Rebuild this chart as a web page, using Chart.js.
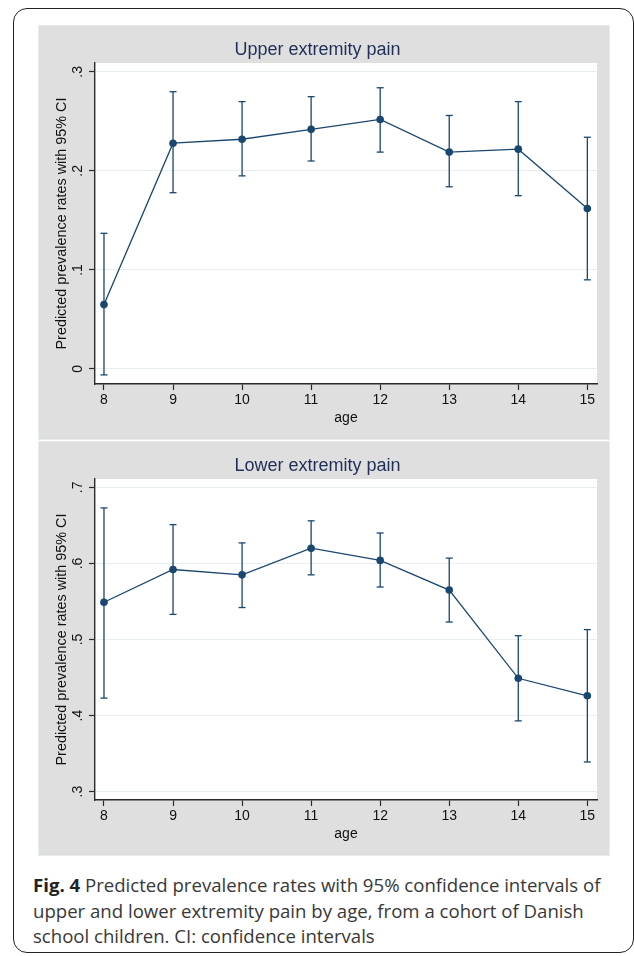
<!DOCTYPE html>
<html lang="en">
<head>
  <meta charset="UTF-8">
  <title>Fig. 4 Predicted prevalence rates</title>
  <script src="https://cdn.jsdelivr.net/npm/chart.js"></script>
  <style>
    body {
      margin: 0;
      padding: 0;
      background: #fff;
      width: 634px;
      height: 956px;
      position: relative;
      overflow: hidden;
    }

    /* outer rounded frame */
    .frame {
      position: absolute;
      left: 13px;
      top: 8px;
      width: 621px;
      height: 945px;
      box-sizing: border-box;
      border: 1.5px solid #222;
      border-radius: 14px;
    }

    /* grey Stata-like graph regions */
    .panel {
      position: absolute;
      left: 38px;
      width: 572px;
      height: 415px;
      background: #dfdfdf;
      box-shadow: inset 0 0 0 1px #e7ecee;
    }
    .panel canvas {
      position: absolute;
      left: 0;
      top: 0;
    }
    #panelUpper { top: 25px; }
    #panelLower { top: 441px; }

    .caption {
      position: absolute;
      left: 33px;
      top: 872px;
      font-family: 'Open Sans', sans-serif;
      font-size: 18.6px;
      line-height: 25.5px;
      color: #383838;
      white-space: nowrap;
    }
    .caption b {
      color: #222;
    }
  </style>
</head>
<body>
  <div class="frame"></div>

  <div class="panel" id="panelUpper">
    <canvas id="upperChart" width="572" height="415"></canvas>
  </div>
  <div class="panel" id="panelLower">
    <canvas id="lowerChart" width="572" height="415"></canvas>
  </div>

  <div class="caption">
    <b>Fig. 4</b> Predicted prevalence rates with 95% confidence intervals of<br>
    upper and lower extremity pain by age, from a cohort of Danish<br>
    school children. CI: confidence intervals
  </div>

  <script>
    // data
    const ages = [8, 9, 10, 11, 12, 13, 14, 15];

    const upperRate = [0.065, 0.228, 0.232, 0.242, 0.252, 0.219, 0.222, 0.162];
    const upperLow  = [-0.006, 0.178, 0.195, 0.210, 0.219, 0.184, 0.175, 0.090];
    const upperHigh = [0.137, 0.280, 0.270, 0.275, 0.284, 0.256, 0.270, 0.234];

    const lowerRate = [0.549, 0.592, 0.585, 0.620, 0.604, 0.565, 0.449, 0.426];
    const lowerLow  = [0.423, 0.533, 0.542, 0.585, 0.569, 0.523, 0.393, 0.339];
    const lowerHigh = [0.673, 0.651, 0.627, 0.656, 0.640, 0.607, 0.505, 0.513];

    const upperTicks = [0, 0.1, 0.2, 0.3];
    const lowerTicks = [0.3, 0.4, 0.5, 0.6, 0.7];

    const navy = '#1a476f';
    const axisColor = '#2b2b2b';
    const fontFamily = "'Liberation Sans', Arial, sans-serif";

    // white plot region inside the grey graph region
    const plotBackground = {
      id: 'plotBackground',
      beforeDraw(chart) {
        const { ctx, chartArea: a } = chart;
        ctx.save();
        ctx.fillStyle = '#fff';
        ctx.fillRect(a.left, a.top, a.right - a.left, a.bottom - a.top);
        ctx.restore();
      }
    };

    // Stata style labels: .3 instead of 0.3
    function stataLabel(v) {
      if (v === 0) return '0';
      return v.toFixed(1).replace(/^0/, '');
    }

    function makeChart(id, title, rate, low, high, yTicks, yMin, yMax) {
      // one vertical segment per age, split by null gaps
      const ciPoints = [];
      ages.forEach((a, i) => {
        ciPoints.push({ x: a, y: low[i] });
        ciPoints.push({ x: a, y: high[i] });
        ciPoints.push({ x: a, y: null });
      });

      return new Chart(document.getElementById(id), {
        type: 'scatter',
        data: {
          datasets: [
            {
              label: 'Predicted rate',
              data: ages.map((a, i) => ({ x: a, y: rate[i] })),
              showLine: true,
              borderColor: navy,
              borderWidth: 1.3,
              pointRadius: 3.8,
              pointBackgroundColor: navy,
              pointBorderColor: navy,
              pointBorderWidth: 0,
            },
            {
              label: '95% CI',
              data: ciPoints,
              showLine: true,
              spanGaps: false,
              borderColor: navy,
              borderWidth: 1.3,
              pointStyle: 'line',
              pointRadius: 3.5,
              pointBorderColor: navy,
              pointBorderWidth: 1.3,
            }
          ]
        },
        options: {
          responsive: false,
          animation: false,
          layout: {
            padding: { left: 0, right: 13, top: 0, bottom: 0 }
          },
          plugins: {
            legend: { display: false },
            tooltip: { enabled: false },
            title: {
              display: true,
              text: title,
              color: '#1f2f57',
              font: { family: fontFamily, size: 18, weight: 'normal' },
              padding: { top: 14.2, bottom: 2.2 }
            }
          },
          scales: {
            x: {
              type: 'linear',
              min: 7.87,
              max: 15.14,
              bounds: 'data',
              afterBuildTicks: s => { s.ticks = ages.map(v => ({ value: v })); },
              afterFit: s => { s.height = 56; },
              grid: {
                drawOnChartArea: false,
                drawTicks: true,
                tickLength: 6,
                tickColor: axisColor,
                tickWidth: 1.2
              },
              border: { display: true, color: axisColor, width: 1.4 },
              ticks: {
                color: '#111',
                padding: 1.6,
                maxRotation: 0,
                font: { family: fontFamily, size: 14 }
              },
              title: {
                display: true,
                text: 'age',
                color: '#111',
                font: { family: fontFamily, size: 14 },
                padding: { top: 0, bottom: 13.8 }
              }
            },
            y: {
              type: 'linear',
              min: yMin,
              max: yMax,
              bounds: 'data',
              afterBuildTicks: s => { s.ticks = yTicks.map(v => ({ value: v })); },
              afterFit: s => { s.width = 57; },
              grid: {
                color: '#e6eef0',
                lineWidth: 1,
                drawTicks: true,
                tickLength: 6,
                tickColor: axisColor,
                tickWidth: 1.2
              },
              border: { display: true, color: axisColor, width: 1.4 },
              ticks: {
                color: '#111',
                minRotation: 90,
                maxRotation: 90,
                crossAlign: 'center',
                padding: 5,
                callback: v => stataLabel(v),
                font: { family: fontFamily, size: 14 }
              },
              title: {
                display: true,
                text: 'Predicted prevalence rates with 95% CI',
                color: '#111',
                font: { family: fontFamily, size: 14.4 },
                padding: { top: 15.4, bottom: 0 }
              }
            }
          }
        },
        plugins: [plotBackground]
      });
    }

    makeChart('upperChart', 'Upper extremity pain',
      upperRate, upperLow, upperHigh, upperTicks, -0.0152, 0.309);
    makeChart('lowerChart', 'Lower extremity pain',
      lowerRate, lowerLow, lowerHigh, lowerTicks, 0.289, 0.711);
  </script>
</body>
</html>
